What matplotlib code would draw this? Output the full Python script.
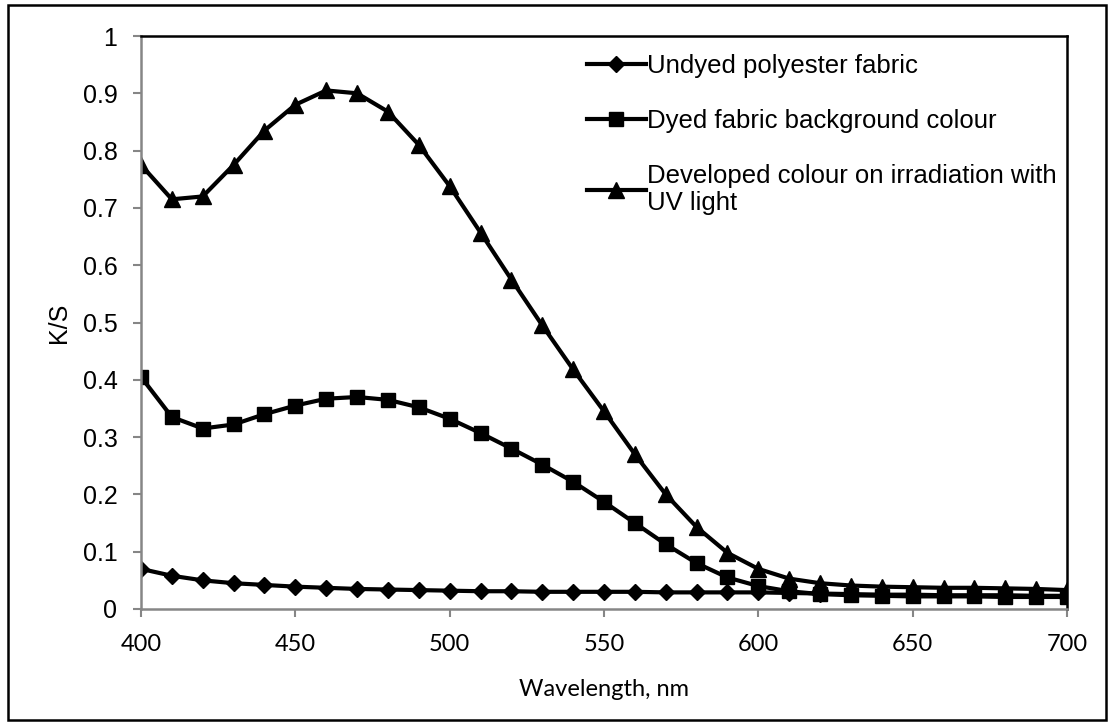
import matplotlib.pyplot as plt
from matplotlib.patches import Rectangle

# wavelength, nm (10 nm steps)
wavelength = list(range(400, 701, 10))

undyed = [0.070, 0.058, 0.050, 0.045, 0.042, 0.039, 0.037, 0.035, 0.034, 0.033,
          0.032, 0.031, 0.031, 0.030, 0.030, 0.030, 0.030, 0.029, 0.029, 0.029,
          0.029, 0.028, 0.027, 0.026, 0.025, 0.025, 0.024, 0.024, 0.024, 0.023,
          0.023]

dyed_bg = [0.405, 0.335, 0.315, 0.322, 0.340, 0.355, 0.367, 0.370, 0.365, 0.352,
           0.332, 0.307, 0.280, 0.252, 0.222, 0.187, 0.150, 0.113, 0.080, 0.055,
           0.040, 0.031, 0.026, 0.024, 0.023, 0.022, 0.022, 0.022, 0.021, 0.021,
           0.021]

developed = [0.775, 0.715, 0.720, 0.775, 0.835, 0.880, 0.905, 0.900, 0.868, 0.810,
             0.738, 0.657, 0.575, 0.495, 0.418, 0.345, 0.270, 0.200, 0.143, 0.098,
             0.070, 0.053, 0.045, 0.041, 0.039, 0.038, 0.037, 0.037, 0.036, 0.035,
             0.033]

labels = ["Undyed polyester fabric",
          "Dyed fabric background colour",
          "Developed colour on irradiation with\nUV light"]

W, H = 1114, 725
fig = plt.figure(figsize=(W / 100, H / 100), dpi=100)
ax = fig.add_axes([141 / W, 1 - 609 / H, (1067 - 141) / W, (609 - 36) / H])

ax.plot(wavelength, undyed, color="black", lw=3, marker="D", ms=8, label=labels[0])
ax.plot(wavelength, dyed_bg, color="black", lw=3, marker="s", ms=10.5, label=labels[1])
ax.plot(wavelength, developed, color="black", lw=3, marker="^", ms=12, label=labels[2])

ax.set_xlim(400, 700)
ax.set_ylim(0, 1)
ax.set_xticks(range(400, 701, 50))
ax.set_yticks([i / 10 for i in range(11)])
ax.set_yticklabels(["0", "0.1", "0.2", "0.3", "0.4", "0.5", "0.6", "0.7", "0.8", "0.9", "1"],
                   family="Liberation Sans", fontsize=18)
ax.set_xticklabels([str(v) for v in range(400, 701, 50)], family="Lato", fontsize=17)

gray = "#868686"
for side in ("left", "bottom"):
    ax.spines[side].set_color(gray)
    ax.spines[side].set_linewidth(1.8)
for side in ("top", "right"):
    ax.spines[side].set_color("black")
    ax.spines[side].set_linewidth(1.8)
ax.tick_params(axis="both", color=gray, width=1.5, length=6)
ax.tick_params(axis="x", pad=12)
ax.tick_params(axis="y", pad=11)

ax.set_xlabel("Wavelength, nm", family="Lato", fontsize=17, labelpad=17)
ax.set_ylabel("K/S", family="Liberation Sans", fontsize=18, labelpad=8)

leg = ax.legend(loc="upper left", bbox_to_anchor=(0.462, 1.0), frameon=False,
                prop={"family": "Liberation Sans", "size": 18.5},
                handlelength=2.3, handletextpad=0.05, labelspacing=1.2,
                borderaxespad=0.3)
leg.get_texts()[2].set_linespacing(1.15)

fig.patches.append(Rectangle((8 / W, 5 / H), (1106 - 8) / W, (720 - 5) / H,
                             transform=fig.transFigure, fill=False,
                             edgecolor="black", lw=1.8))

fig.savefig("out.png", dpi=100)
